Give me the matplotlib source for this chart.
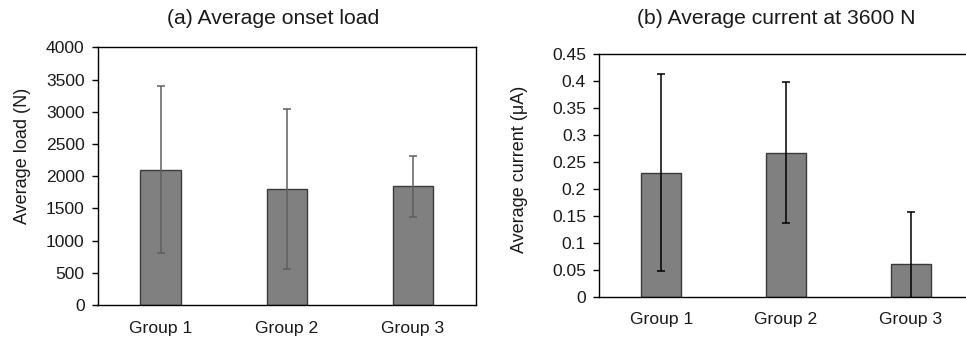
import matplotlib
matplotlib.use("Agg")
import matplotlib.pyplot as plt
import numpy as np

plt.rcParams['font.family'] = ['Liberation Sans', 'DejaVu Sans']

groups = ["Group 1", "Group 2", "Group 3"]
onset_load = [2100, 1800, 1840]
onset_err = [1300, 1235, 475]
current = [0.231, 0.268, 0.061]
current_err = [0.182, 0.130, 0.097]

load_ticks = [0, 500, 1000, 1500, 2000, 2500, 3000, 3500, 4000]
current_ticks = [0, 0.05, 0.1, 0.15, 0.2, 0.25, 0.3, 0.35, 0.4, 0.45]
current_ticklabels = ["0", "0.05", "0.1", "0.15", "0.2", "0.25", "0.3", "0.35", "0.4", "0.45"]

W, H = 966, 339
fig = plt.figure(figsize=(W / 100, H / 100), dpi=100)

def px_axes(l, t, r, b):
    return fig.add_axes([l / W, 1 - b / H, (r - l) / W, (b - t) / H])

tick_fs = 12.6
label_fs = 13.0
title_fs = 15.2
txt_color = "#1a1a1a"
bar_face = "#808080"
bar_edge = "#3a3a3a"

def style(ax, xpad):
    ax.tick_params(axis='y', length=4.3, width=1.0, direction='out', pad=5.0,
                   labelsize=tick_fs, labelcolor=txt_color, color="black")
    ax.tick_params(axis='x', length=0, pad=xpad, labelsize=tick_fs, labelcolor=txt_color)
    for s in ax.spines.values():
        s.set_linewidth(1.0)
        s.set_color("black")

# Panel (a)
axa = px_axes(97.5, 47.3, 476, 305)
x = np.arange(len(groups))
axa.bar(x, onset_load, width=0.32, color=bar_face, edgecolor=bar_edge, linewidth=1.0, zorder=2)
axa.errorbar(x, onset_load, yerr=onset_err, fmt='none', ecolor="#5f5f5f",
             elinewidth=1.1, capsize=3, capthick=1.1, zorder=3)
axa.set_xlim(-0.5, 2.5)
axa.set_ylim(0, 4000)
axa.set_yticks(load_ticks)
axa.set_yticklabels([str(v) for v in load_ticks])
axa.set_xticks(x)
axa.set_xticklabels(groups)
style(axa, 11.8)
axa.set_ylabel("Average load (N)", fontsize=label_fs, color=txt_color)
axa.yaxis.set_label_coords(-0.176, 0.578)

# Panel (b)
axb = px_axes(599, 54.3, 973, 297.3)
axb.bar(x, current, width=0.32, color=bar_face, edgecolor=bar_edge, linewidth=1.0, zorder=2)
axb.errorbar(x, current, yerr=current_err, fmt='none', ecolor="black",
             elinewidth=1.1, capsize=3, capthick=1.1, zorder=3)
axb.set_xlim(-0.5, 2.5)
axb.set_ylim(0, 0.45)
axb.set_yticks(current_ticks)
axb.set_yticklabels(current_ticklabels)
axb.set_xticks(x)
axb.set_xticklabels(groups)
style(axb, 10.9)
axb.spines['right'].set_visible(False)
axb.set_ylabel("Average current (\u03bcA)", fontsize=label_fs, color=txt_color)
axb.yaxis.set_label_coords(-0.189, 0.528)

fig.text(273 / W, 1 - 18.3 / H, "(a) Average onset load", ha='center', va='center',
         fontsize=title_fs, color=txt_color)
fig.text(776 / W, 1 - 19 / H, "(b) Average current at 3600 N", ha='center', va='center',
         fontsize=title_fs, color=txt_color)

fig.savefig("out.png", dpi=100)
